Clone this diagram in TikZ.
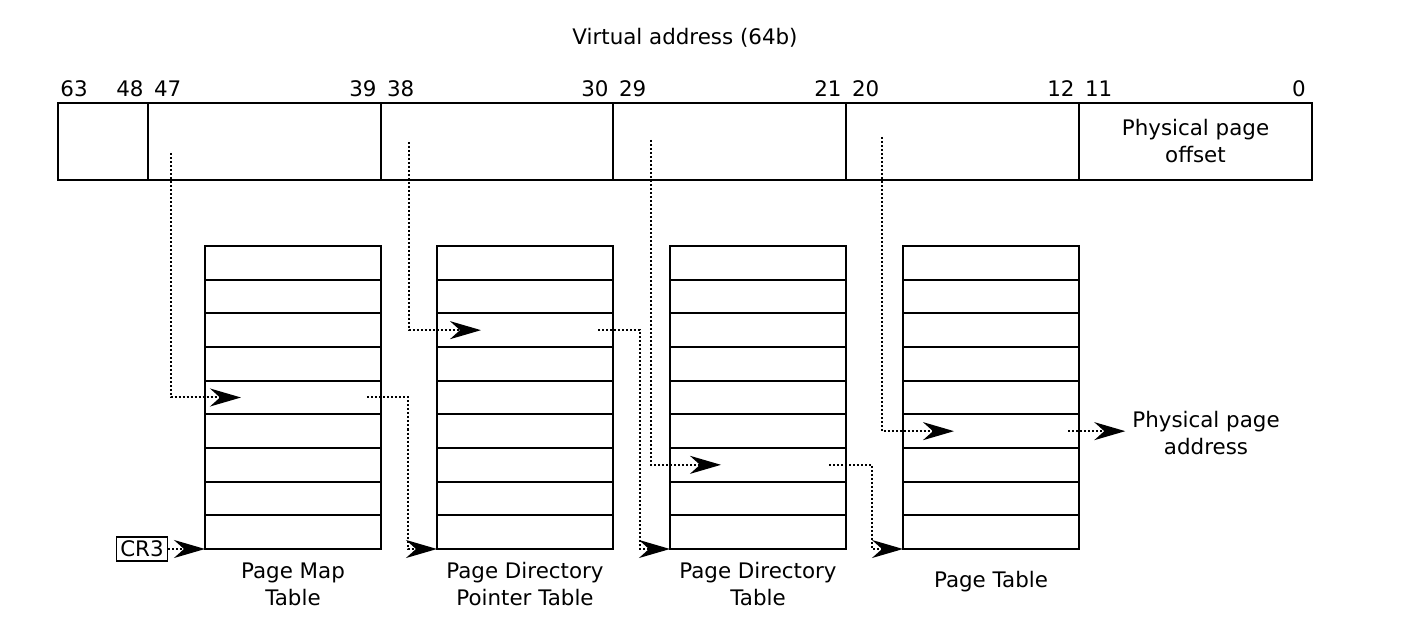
\documentclass[tikz,border=0pt]{standalone}
\usepackage{fontspec}
\setmainfont{DejaVu Sans}
\usetikzlibrary{positioning,calc,arrows.meta}

\begin{document}
\begin{tikzpicture}[
    x=0.5pt, y=-0.5pt,
    font=\fontsize{10.7}{13.5}\selectfont,
    cell/.style={draw, rectangle, line width=0.9pt, minimum height=38.5pt, inner sep=0pt, outer sep=0pt, align=center},
    tbl/.style={draw, rectangle, line width=0.9pt, minimum width=88pt, minimum height=151.5pt, inner sep=0pt, outer sep=0pt},
    row/.style={line width=0.9pt},
    bitl/.style={inner sep=2.8pt, anchor=base west},
    bitr/.style={inner sep=2pt, anchor=base east},
    ptr/.style={line width=1pt, dash pattern=on 1pt off 1pt, -{Stealth[length=15.5pt, width=9pt, inset=5pt]}},
    lbl/.style={align=center},
  ]
    \useasboundingbox (0,0) rectangle (1422,624);

    % virtual address register
    \node[cell, minimum width=45pt] (c0) at (103,141.5) {};
    \node[cell, minimum width=116.5pt, right=0pt of c0] (c1) {};
    \node[cell, minimum width=116pt, right=0pt of c1] (c2) {};
    \node[cell, minimum width=116.5pt, right=0pt of c2] (c3) {};
    \node[cell, minimum width=116.5pt, right=0pt of c3] (c4) {};
    \node[cell, minimum width=116.5pt, right=0pt of c4] (c5) {Physical page\\offset};

    \node (title) at ($(c0.north west)!0.5!(c5.north east)+(0,-65)$) {Virtual address (64b)};

    % bit numbers
    \node[bitl, inner sep=1pt] at ($(c0.north west)+(0,-6)$) {63};
    \node[bitr] at ($(c0.north east)+(0,-6)$) {48};
    \node[bitl] at ($(c1.north west)+(0,-6)$) {47};
    \node[bitr] at ($(c1.north east)+(0,-6)$) {39};
    \node[bitl] at ($(c2.north west)+(0,-6)$) {38};
    \node[bitr] at ($(c2.north east)+(0,-6)$) {30};
    \node[bitl] at ($(c3.north west)+(0,-6)$) {29};
    \node[bitr] at ($(c3.north east)+(0,-6)$) {21};
    \node[bitl] at ($(c4.north west)+(0,-6)$) {20};
    \node[bitr] at ($(c4.north east)+(0,-6)$) {12};
    \node[bitl] at ($(c5.north west)+(0,-6)$) {11};
    \node[bitr, inner sep=3pt] at ($(c5.north east)+(0,-6)$) {0};

    % tables
    \node[tbl, anchor=north east] (pml) at ($(c1.south east)+(0,66)$) {};
    \node[tbl, anchor=north east] (pdpt) at ($(c2.south east)+(0,66)$) {};
    \node[tbl, anchor=north east] (pd) at ($(c3.south east)+(0,66)$) {};
    \node[tbl, anchor=north east] (pt) at ($(c4.south east)+(0,66)$) {};
    \foreach \t in {pml,pdpt,pd,pt}
      \foreach \k in {1,...,8}
        \draw[row] ($(\t.north west)!\k/9!(\t.south west)$) -- ($(\t.north east)!\k/9!(\t.south east)$);

    \node[lbl] (pml-lbl) at ($(pml.south)+(0,35)$) {Page Map\\Table};
    \node[lbl] (pdpt-lbl) at ($(pdpt.south)+(0,35)$) {Page Directory\\Pointer Table};
    \node[lbl] (pd-lbl) at ($(pd.south)+(0,35)$) {Page Directory\\Table};
    \node[lbl] (pt-lbl) at ($(pt.south)+(0,33)$) {Page Table};

    \node[draw, line width=0.6pt, inner sep=2pt] (cr3) at (142,549) {CR3};
    \node[lbl] (phys) at (1206,433) {Physical page\\address};

    % entry points
    \coordinate (s1) at (171,153);
    \coordinate (s2) at (409,142);
    \coordinate (s3) at (651,140);
    \coordinate (s4) at (882,137);
    \coordinate (pml-in) at ($(pml.north west)!4.5/9!(pml.south west)+(36,0)$);
    \coordinate (pml-out) at ($(pml.north east)!4.5/9!(pml.south east)+(-14,0)$);
    \coordinate (pdpt-in) at ($(pdpt.north west)!2.5/9!(pdpt.south west)+(44,0)$);
    \coordinate (pdpt-out) at ($(pdpt.north east)!2.5/9!(pdpt.south east)+(-15,0)$);
    \coordinate (pd-in) at ($(pd.north west)!6.5/9!(pd.south west)+(51,0)$);
    \coordinate (pd-out) at ($(pd.north east)!6.5/9!(pd.south east)+(-17,0)$);
    \coordinate (pt-in) at ($(pt.north west)!5.5/9!(pt.south west)+(51,0)$);
    \coordinate (pt-out) at ($(pt.north east)!5.5/9!(pt.south east)+(-11,0)$);

    % pointers
    \draw[ptr] (cr3) -- (pml.south west);
    \draw[ptr] (s1) |- (pml-in);
    \draw[ptr] (pml-out) -| ($(pdpt.south west)+(-29,0)$) -- (pdpt.south west);
    \draw[ptr] (s2) |- (pdpt-in);
    \draw[ptr] (pdpt-out) -| ($(pd.south west)+(-30,0)$) -- (pd.south west);
    \draw[ptr] (s3) |- (pd-in);
    \draw[ptr] (pd-out) -| ($(pt.south west)+(-31,0)$) -- (pt.south west);
    \draw[ptr] (s4) |- (pt-in);
    \draw[ptr] (pt-out) -- (pt-out -| phys.west);
  \end{tikzpicture}
\end{document}
